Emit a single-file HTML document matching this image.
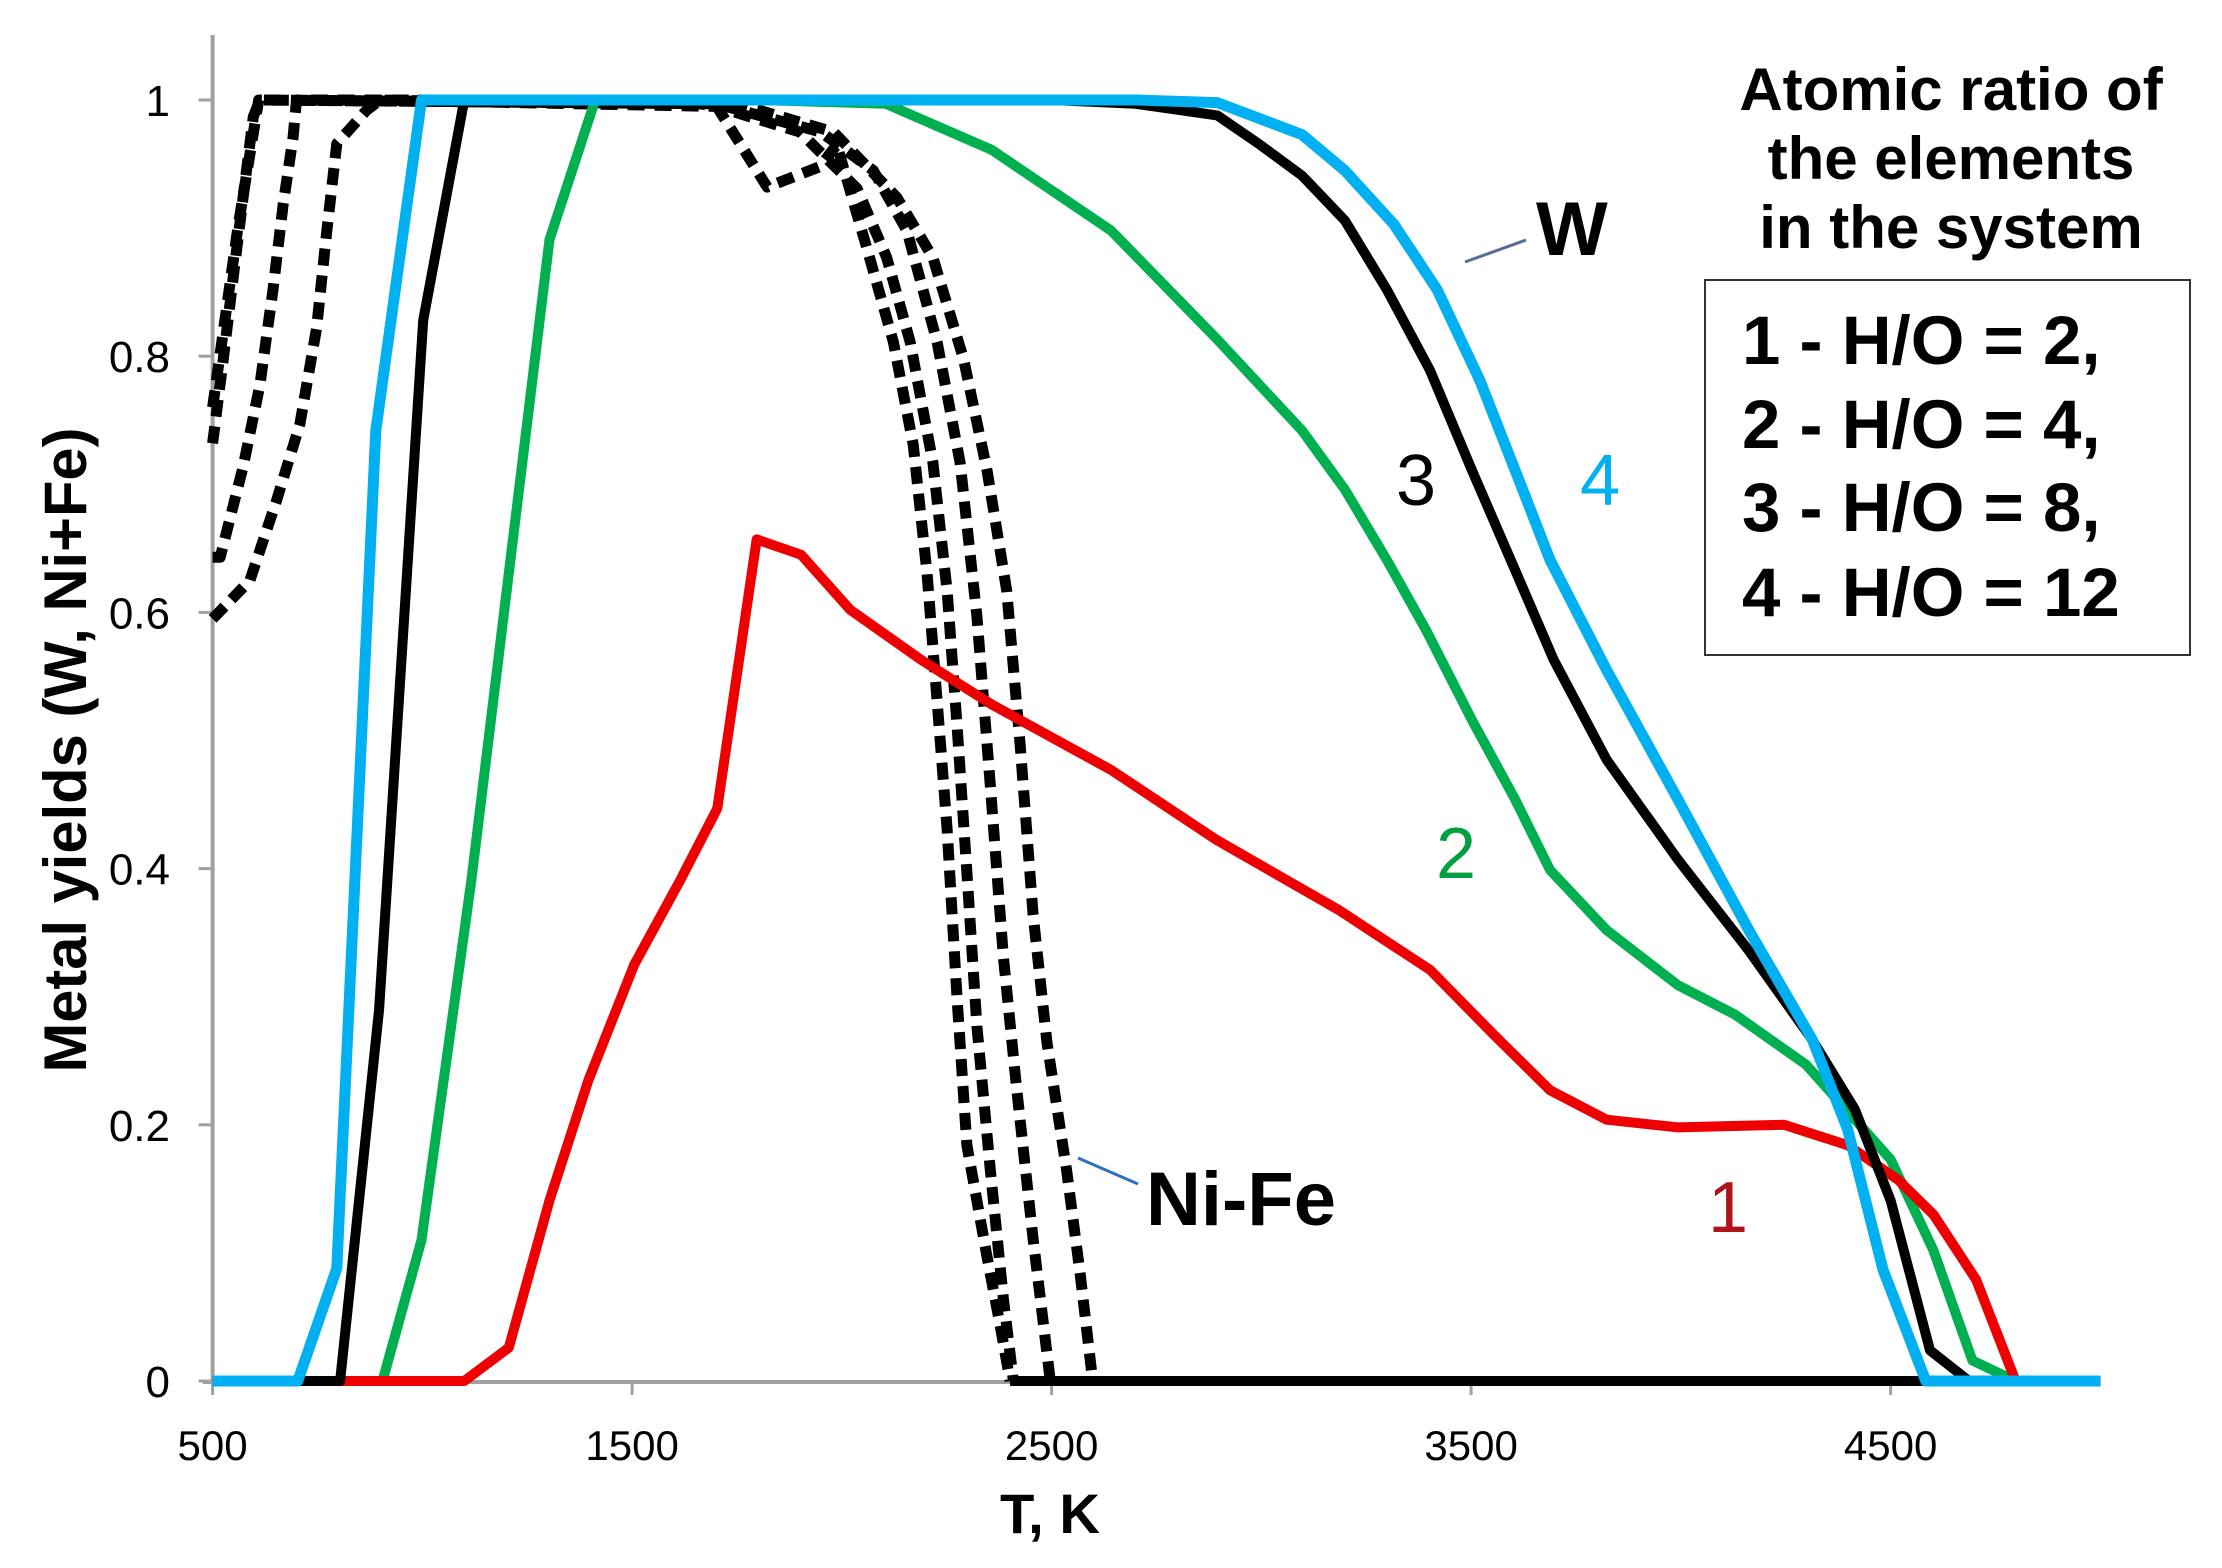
<!DOCTYPE html>
<html><head><meta charset="utf-8"><style>
html,body{margin:0;padding:0;background:#fff;}
svg{display:block;}
text{font-family:"Liberation Sans",sans-serif;}
</style></head><body>
<svg id="chart" width="2222" height="1568" viewBox="0 0 2222 1568" xmlns="http://www.w3.org/2000/svg">
<g id="axes"></g>
<g id="series"></g>
<text transform="translate(86,750) rotate(-90)" text-anchor="middle" font-size="60" font-weight="bold" textLength="645" lengthAdjust="spacingAndGlyphs">Metal yields (W, Ni+Fe)</text>
<text x="1050" y="1533" text-anchor="middle" font-size="56" font-weight="bold" textLength="100" lengthAdjust="spacingAndGlyphs">T, K</text>
<g>
<text text-anchor="middle" font-size="60" font-weight="bold">
<tspan x="1951" y="110">Atomic ratio of</tspan><tspan x="1951" y="179">the elements</tspan><tspan x="1951" y="248">in the system</tspan></text>
<rect x="1705" y="280" width="485" height="375" fill="none" stroke="#333" stroke-width="2"/>
<text x="1742" y="364" font-size="69" font-weight="bold">1 - H/O = 2,</text>
<text x="1742" y="448" font-size="69" font-weight="bold">2 - H/O = 4,</text>
<text x="1742" y="531" font-size="69" font-weight="bold">3 - H/O = 8,</text>
<text x="1742" y="616" font-size="69" font-weight="bold">4 - H/O = 12</text>
</g>
<line x1="1465" y1="262" x2="1526" y2="240" stroke="#5a6a9a" stroke-width="3"/>
<text x="1536" y="255" font-size="76" font-weight="bold">W</text>
<line x1="1078" y1="1158" x2="1138" y2="1184" stroke="#2f6fbf" stroke-width="3"/>
<text x="1146" y="1225" font-size="76" font-weight="bold">Ni-Fe</text>
<text x="1416" y="505" text-anchor="middle" font-size="72" fill="#000">3</text>
<text x="1600" y="505" text-anchor="middle" font-size="72" fill="#00b0f0">4</text>
<text x="1456" y="878" text-anchor="middle" font-size="72" fill="#00a040">2</text>
<text x="1728" y="1232" text-anchor="middle" font-size="72" fill="#b0121b">1</text>
</svg>
<script>
const xTicks=[500,1500,2500,3500,4500];
const yTicks=[0,0.2,0.4,0.6,0.8,1];
const yTickLabels=["0","0.2","0.4","0.6","0.8","1"];
const redT=[500,1100,1206,1303,1396,1505,1615,1703,1797,1903,2020,2189,2358,2642,2895,3183,3402,3555,3688,3823,3993,4246,4398,4518,4602,4704,4798,5000];
const redY=[0,0,0.026,0.141,0.235,0.325,0.391,0.447,0.657,0.645,0.602,0.563,0.528,0.477,0.422,0.368,0.321,0.27,0.227,0.204,0.198,0.2,0.184,0.157,0.13,0.079,0,0];
const greenT=[500,905,998,1117,1303,1412,1800,2105,2358,2642,2895,3097,3199,3299,3393,3502,3605,3688,3823,3993,4129,4298,4500,4602,4695,4798,5000];
const greenY=[0,0,0.11,0.391,0.891,1,1,0.997,0.961,0.898,0.813,0.742,0.696,0.641,0.586,0.516,0.454,0.399,0.352,0.309,0.286,0.247,0.173,0.102,0.016,0,0];
const blackT=[500,804,897,1002,1100,2500,2700,2895,2997,3097,3199,3299,3402,3502,3605,3697,3823,3993,4162,4314,4415,4500,4594,4687,5000];
const blackY=[0,0,0.29,0.828,1,1,0.997,0.988,0.965,0.941,0.906,0.852,0.789,0.711,0.633,0.563,0.485,0.407,0.336,0.266,0.212,0.141,0.024,0,0];
const cyanT=[500,703,796,889,998,2700,2895,3097,3199,3316,3419,3521,3605,3688,3823,3993,4162,4314,4398,4482,4584,5000];
const cyanY=[0,0,0.088,0.742,1,1,0.998,0.973,0.945,0.903,0.852,0.781,0.711,0.641,0.555,0.454,0.352,0.266,0.196,0.087,0,0];
const nife1T=[500,518,573,613,644,668,692,700,1600,1702,1822,1948,1988,2060,2123,2170,2203,2227,2251,2275,2298,2346,2377,2401];
const nife1Y=[0.643,0.643,0.714,0.778,0.852,0.918,0.971,1,1,0.995,0.932,0.948,0.965,0.884,0.811,0.731,0.631,0.531,0.431,0.297,0.184,0.097,0.044,0];
const nife2T=[500,589,653,708,748,772,796,867,899,1700,1900,2036,2107,2163,2217,2251,2275,2298,2322,2354,2385,2409];
const nife2Y=[0.595,0.625,0.688,0.747,0.822,0.897,0.966,0.992,1,0.995,0.975,0.931,0.877,0.811,0.717,0.617,0.51,0.397,0.277,0.164,0.064,0];
const nife3T=[500,526,550,574,597,613,1700,1950,2075,2155,2227,2282,2322,2354,2385,2416,2456,2497];
const nife3Y=[0.732,0.799,0.864,0.927,0.987,1,0.997,0.975,0.945,0.898,0.811,0.717,0.597,0.464,0.331,0.23,0.111,0];
const nife4T=[500,530,560,590,610,1750,1980,2131,2217,2290,2346,2393,2425,2456,2489,2536,2568,2598];
const nife4Y=[0.76,0.83,0.9,0.96,1,0.997,0.975,0.924,0.877,0.798,0.711,0.617,0.497,0.364,0.264,0.164,0.084,0];
const zeroT=[2401,4600];
const zeroY=[0,0];

const NS="http://www.w3.org/2000/svg";
const X0=212.6,PXK=0.4195,Y0=1381,PXY=1281;
function sx(t){return X0+(t-500)*PXK;}
function sy(v){return Y0-v*PXY;}
function mk(tag,attrs,parent){const e=document.createElementNS(NS,tag);for(const k in attrs)e.setAttribute(k,attrs[k]);parent.appendChild(e);return e;}
const axes=document.getElementById('axes');
const series=document.getElementById('series');
const yAx=mk('line',{x1:X0,y1:35,x2:X0,y2:Y0,stroke:'#a0a0a0','stroke-width':4},axes);


const xAx=mk('line',{x1:X0-10,y1:Y0+1,x2:sx(5000),y2:Y0+1,stroke:'#a0a0a0','stroke-width':4},axes);


xTicks.forEach(t=>{
  const tk=mk('line',{x1:sx(t),y1:Y0,x2:sx(t),y2:Y0+14,stroke:'#a0a0a0','stroke-width':3},axes);
  
  
  const lb=mk('text',{x:sx(t),y:1460,'text-anchor':'middle','font-size':42},axes);
  lb.textContent=t;
  
  
});
yTicks.forEach((v,i)=>{
  const tk=mk('line',{x1:X0-14,y1:sy(v),x2:X0,y2:sy(v),stroke:'#a0a0a0','stroke-width':3},axes);
  
  
  const lb=mk('text',{x:170,y:sy(v)+16,'text-anchor':'end','font-size':44},axes);
  lb.textContent=yTickLabels[i];
  
  
});
function pathD(T,Y){return T.map((t,i)=>(i?'L':'M')+sx(t).toFixed(1)+','+sy(Y[i]).toFixed(1)).join(' ');}
function line(T,Y,color,w,dash,name){
  const p=mk('path',{d:pathD(T,Y),fill:'none',stroke:color,'stroke-width':w,'stroke-linejoin':'round'},series);
  if(dash)p.setAttribute('stroke-dasharray',dash);
  
  
}
line(nife1T,nife1Y,'#000',11,'17 10','nife-curve-1');
line(nife2T,nife2Y,'#000',11,'17 10','nife-curve-2');
line(nife3T,nife3Y,'#000',11,'17 10','nife-curve-3');
line(nife4T,nife4Y,'#000',11,'17 10','nife-curve-4');
line(zeroT,zeroY,'#000',10,null,'nife-zero-line');
line(greenT,greenY,'#00b050',10,null,'w-curve-2');
line(redT,redY,'#ee0000',10,null,'w-curve-1');
line(blackT,blackY,'#000',10,null,'w-curve-3');
line(cyanT,cyanY,'#00b0f0',11,null,'w-curve-4');
</script>
</body></html>
